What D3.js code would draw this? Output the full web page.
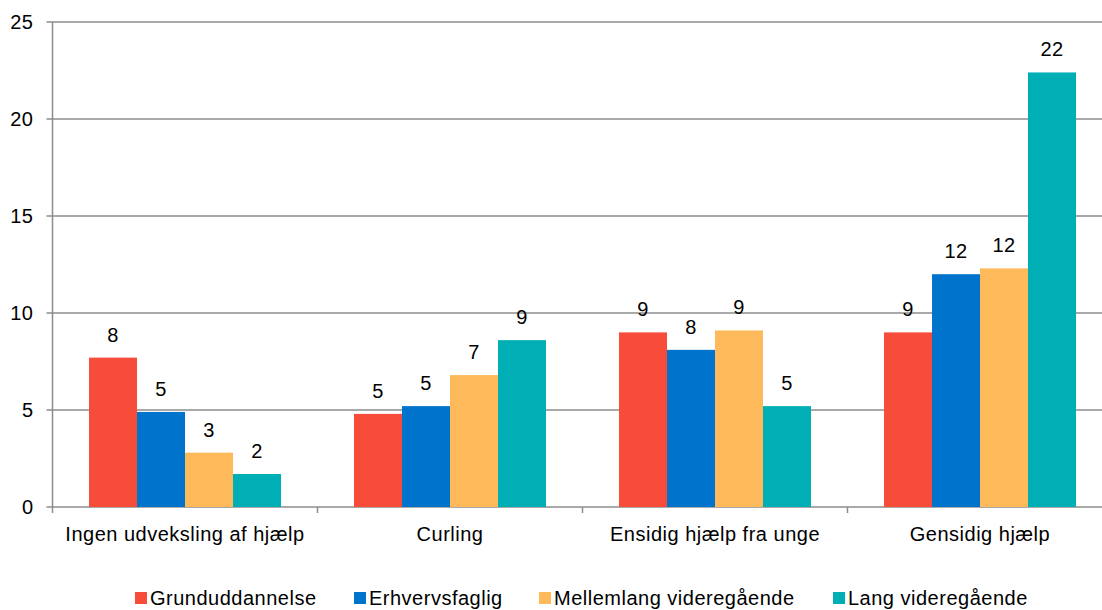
<!DOCTYPE html>
<meta charset="utf-8">
<style>
    body { margin: 0; background: #fff; }
    svg text { font-family: "Liberation Sans", Arial, sans-serif; fill: #000; letter-spacing: 0.5px; }
</style>

<body>
    <svg width="1102" height="610"></svg>
    <script src="https://d3js.org/d3.v7.min.js"></script>
    <script>
        var categories = ["Ingen udveksling af hjælp", "Curling", "Ensidig hjælp fra unge", "Gensidig hjælp"];
        var seriesNames = ["Grunduddannelse", "Erhvervsfaglig", "Mellemlang videregående", "Lang videregående"];
        var seriesColors = ["#f84c3b", "#0074cc", "#fdb95a", "#00aeb6"];
        // values per series, in category order
        var grund = [7.7, 4.8, 9.0, 9.0];
        var erhverv = [4.9, 5.2, 8.1, 12.0];
        var mellem = [2.8, 6.8, 9.1, 12.3];
        var lang = [1.7, 8.6, 5.2, 22.4];
        var yTicks = [0, 5, 10, 15, 20, 25];

        var allSeries = [grund, erhverv, mellem, lang];

        var svg = d3.select("svg"),
            margin = { top: 22, left: 52.5 },
            width = 1060,   // plot runs past the right edge, as in the original
            height = 485;

        var x0 = d3.scaleBand().domain(categories).range([0, width]).paddingInner(0).paddingOuter(0);
        var x1 = d3.scaleBand().domain(d3.range(seriesNames.length))
            .range([36.5, x0.bandwidth() - 36.5]).padding(0);
        var y = d3.scaleLinear().domain([0, 25]).range([height, 0]);

        var g = svg.append("g")
            .attr("transform", "translate(" + margin.left + "," + margin.top + ")");

        // gridlines
        g.append("g").selectAll("line")
            .data(yTicks)
            .join("line")
            .attr("x1", -6).attr("x2", width)
            .attr("y1", function (d) { return y(d); })
            .attr("y2", function (d) { return y(d); })
            .attr("stroke", "#8c8c8c")
            .attr("stroke-width", 1.5);

        // y labels
        g.append("g").selectAll("text")
            .data(yTicks)
            .join("text")
            .attr("x", -19)
            .attr("y", function (d) { return y(d); })
            .attr("dy", "0.35em")
            .attr("text-anchor", "end")
            .style("font-size", "20px")
            .text(function (d) { return d; });

        // y axis line
        g.append("line")
            .attr("x1", 0).attr("x2", 0)
            .attr("y1", 0).attr("y2", height)
            .attr("stroke", "#8c8c8c").attr("stroke-width", 1.5);

        // x tick marks at group boundaries
        g.append("g").selectAll("line")
            .data(d3.range(categories.length + 1))
            .join("line")
            .attr("x1", function (i) { return i * x0.step(); })
            .attr("x2", function (i) { return i * x0.step(); })
            .attr("y1", height).attr("y2", height + 6)
            .attr("stroke", "#8c8c8c").attr("stroke-width", 1.5);

        // bars
        var groups = g.append("g").selectAll("g")
            .data(categories)
            .join("g")
            .attr("transform", function (d) { return "translate(" + x0(d) + ",0)"; });

        groups.selectAll("rect")
            .data(function (d, ci) { return allSeries.map(function (s, si) { return { si: si, v: s[ci] }; }); })
            .join("rect")
            .attr("x", function (d) { return x1(d.si); })
            .attr("width", x1.bandwidth())
            .attr("y", function (d) { return y(d.v); })
            .attr("height", function (d) { return height - y(d.v); })
            .attr("fill", function (d) { return seriesColors[d.si]; });

        groups.selectAll("text")
            .data(function (d, ci) { return allSeries.map(function (s, si) { return { si: si, v: s[ci] }; }); })
            .join("text")
            .attr("x", function (d) { return x1(d.si) + x1.bandwidth() / 2; })
            .attr("y", function (d) { return y(d.v) - 16; })
            .attr("text-anchor", "middle")
            .style("font-size", "20px")
            .text(function (d) { return Math.round(d.v); });

        // category labels
        g.append("g").selectAll("text")
            .data(categories)
            .join("text")
            .attr("x", function (d) { return x0(d) + x0.bandwidth() / 2; })
            .attr("y", height + 34)
            .attr("text-anchor", "middle")
            .style("font-size", "20px")
            .text(function (d) { return d; });

        // legend
        var legendX = [135, 354, 539, 833];
        var legend = svg.append("g").selectAll("g")
            .data(seriesNames)
            .join("g")
            .attr("transform", function (d, i) { return "translate(" + legendX[i] + ",598)"; });
        legend.append("rect")
            .attr("x", 0).attr("y", -6)
            .attr("width", 12).attr("height", 12)
            .attr("fill", function (d, i) { return seriesColors[i]; });
        legend.append("text")
            .attr("x", 15)
            .attr("dy", "0.35em")
            .style("font-size", "20px")
            .text(function (d) { return d; });
    </script>
</body>
